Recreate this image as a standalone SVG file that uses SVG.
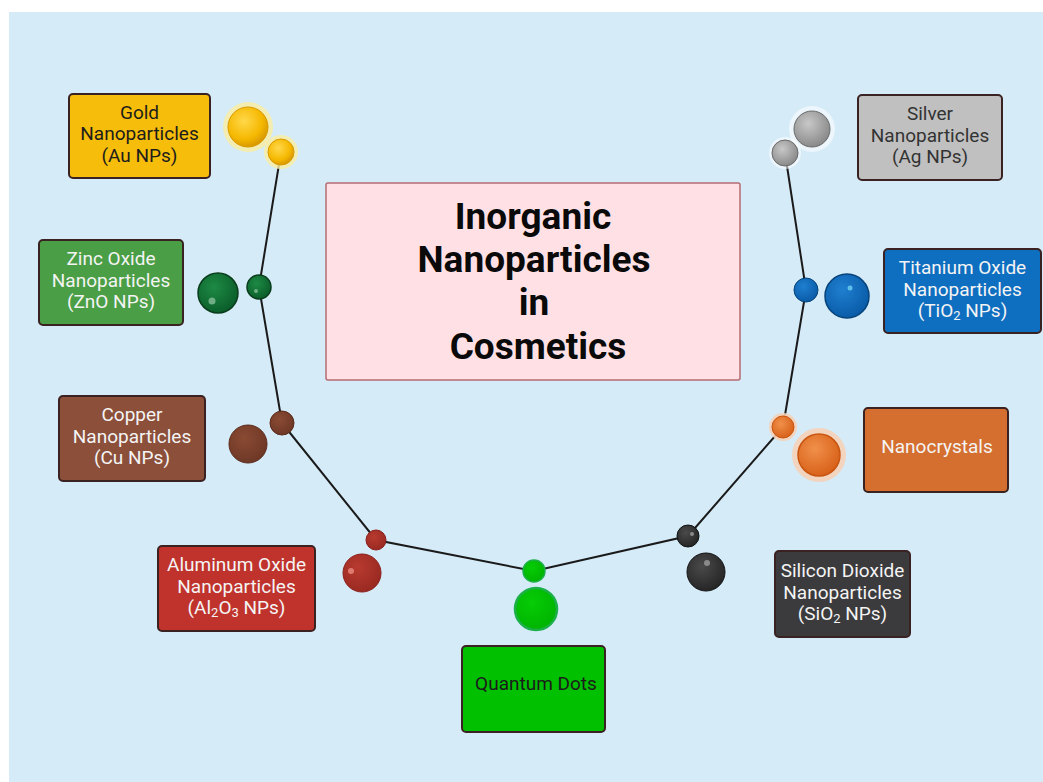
<svg xmlns="http://www.w3.org/2000/svg" width="1043" height="782" viewBox="0 0 1043 782">
<defs>
<style>
.box{stroke:#3b2222;stroke-width:2}
.t{font-family:Roboto,"Liberation Sans",sans-serif;font-size:19px;text-anchor:middle}
.dk{fill:#1c1c1c}
.wt{fill:#f4f4f4}
.title{font-family:Roboto,"Liberation Sans",sans-serif;font-size:37px;font-weight:bold;text-anchor:middle;fill:#0a0a0a}
.halo{fill:#ffffff;opacity:0.55}
</style>
<radialGradient id="gGold" cx="0.4" cy="0.35" r="0.65"><stop offset="0" stop-color="#ffd84a"/><stop offset="0.7" stop-color="#f5b800"/><stop offset="1" stop-color="#d99a00"/></radialGradient>
<radialGradient id="gZinc" cx="0.4" cy="0.35" r="0.65"><stop offset="0" stop-color="#1d8a45"/><stop offset="1" stop-color="#0b5e2a"/></radialGradient>
<radialGradient id="gCu" cx="0.4" cy="0.35" r="0.65"><stop offset="0" stop-color="#8a4a33"/><stop offset="1" stop-color="#6e3826"/></radialGradient>
<radialGradient id="gAl" cx="0.4" cy="0.35" r="0.65"><stop offset="0" stop-color="#b83a2f"/><stop offset="1" stop-color="#9a2a22"/></radialGradient>
<radialGradient id="gQd" cx="0.4" cy="0.35" r="0.65"><stop offset="0" stop-color="#06cc06"/><stop offset="1" stop-color="#00b400"/></radialGradient>
<radialGradient id="gSi" cx="0.4" cy="0.35" r="0.65"><stop offset="0" stop-color="#4a4a4a"/><stop offset="1" stop-color="#262626"/></radialGradient>
<radialGradient id="gNc" cx="0.4" cy="0.35" r="0.65"><stop offset="0" stop-color="#f0904a"/><stop offset="1" stop-color="#d9621a"/></radialGradient>
<radialGradient id="gTi" cx="0.4" cy="0.35" r="0.65"><stop offset="0" stop-color="#1f7fd0"/><stop offset="1" stop-color="#0a5ca8"/></radialGradient>
<radialGradient id="gAg" cx="0.4" cy="0.35" r="0.65"><stop offset="0" stop-color="#c8c8c8"/><stop offset="1" stop-color="#8a8a8a"/></radialGradient>
</defs>
<rect x="0" y="0" width="1043" height="782" fill="#ffffff"/>
<rect x="9" y="12" width="1034" height="770" fill="#d5ebf8"/>

<g id="connectors">
<polyline points="281,152 259,287 282,423 376,540 534,571 688,536 783,427 806,290 785,153" fill="none" stroke="#1a1a1a" stroke-width="2"/>
</g>

<g id="title">
<rect x="326" y="183" width="414" height="197" rx="2" fill="#ffe1e5" stroke="#b56c72" stroke-width="1.5"/>
<text class="title" x="533" y="229">Inorganic</text>
<text class="title" x="534" y="272">Nanoparticles</text>
<text class="title" x="534" y="315">in</text>
<text class="title" x="538" y="359">Cosmetics</text>
</g>

<g id="gold">
<rect class="box" x="69" y="94" width="141" height="84" rx="4" fill="#f6bd0b"/>
<text class="t dk" x="139.5" y="119">Gold</text>
<text class="t dk" x="139.5" y="140">Nanoparticles</text>
<text class="t dk" x="139.5" y="162">(Au NPs)</text>
<circle cx="248" cy="127" r="25" fill="#fbeda0" opacity="0.8"/>
<circle cx="281" cy="152" r="17" fill="#fbeda0" opacity="0.8"/>
<circle cx="248" cy="127" r="20" fill="url(#gGold)" stroke="#d89a00" stroke-width="1"/>
<circle cx="281" cy="152" r="13" fill="url(#gGold)" stroke="#d89a00" stroke-width="1"/>
</g>

<g id="zinc">
<rect class="box" x="39" y="240" width="144" height="85" rx="4" fill="#4a9e45"/>
<text class="t wt" x="111" y="265">Zinc Oxide</text>
<text class="t wt" x="111" y="287">Nanoparticles</text>
<text class="t wt" x="111" y="308">(ZnO NPs)</text>
<circle cx="218" cy="293" r="20" fill="url(#gZinc)" stroke="#0a3d1c" stroke-width="1.5"/>
<circle cx="212" cy="301" r="3.5" fill="#6fae84"/>
<circle cx="259" cy="287" r="12" fill="url(#gZinc)" stroke="#0a3d1c" stroke-width="1.5"/>
<circle cx="256" cy="291" r="2" fill="#6fae84"/>
</g>

<g id="copper">
<rect class="box" x="59" y="396" width="146" height="85" rx="4" fill="#8b4f3a"/>
<text class="t wt" x="132" y="421">Copper</text>
<text class="t wt" x="132" y="443">Nanoparticles</text>
<text class="t wt" x="132" y="464">(Cu NPs)</text>
<circle cx="248" cy="444" r="19" fill="url(#gCu)" stroke="#5a2a1a" stroke-width="1"/>
<circle cx="282" cy="423" r="12" fill="url(#gCu)" stroke="#5a2a1a" stroke-width="1"/>
</g>

<g id="aluminum">
<rect class="box" x="158" y="546" width="157" height="85" rx="4" fill="#c0332d"/>
<text class="t wt" x="236.5" y="571">Aluminum Oxide</text>
<text class="t wt" x="236.5" y="593">Nanoparticles</text>
<text class="t wt" x="236.5" y="614">(Al<tspan font-size="13" dy="3">2</tspan><tspan dy="-3">O</tspan><tspan font-size="13" dy="3">3</tspan><tspan dy="-3"> NPs)</tspan></text>
<circle cx="362" cy="573" r="19" fill="url(#gAl)" stroke="#8a1f1a" stroke-width="1"/>
<circle cx="351" cy="571" r="3" fill="#e07a70"/>
<circle cx="376" cy="540" r="10" fill="url(#gAl)" stroke="#8a1f1a" stroke-width="1"/>
</g>

<g id="quantum">
<rect class="box" x="462" y="646" width="143" height="86" rx="4" fill="#00c000"/>
<text class="t dk" x="536" y="690">Quantum Dots</text>
<circle cx="536" cy="609" r="21" fill="url(#gQd)" stroke="#1db04a" stroke-width="2.5"/>
<circle cx="534" cy="571" r="11" fill="url(#gQd)" stroke="#1db04a" stroke-width="1.5"/>
</g>

<g id="silicon">
<rect class="box" x="775" y="551" width="135" height="86" rx="4" fill="#3b3a3c" stroke="#5a1a1a"/>
<text class="t wt" x="842.5" y="577">Silicon Dioxide</text>
<text class="t wt" x="842.5" y="599">Nanoparticles</text>
<text class="t wt" x="842.5" y="620">(SiO<tspan font-size="13" dy="3">2</tspan><tspan dy="-3"> NPs)</tspan></text>
<circle cx="706" cy="572" r="19" fill="url(#gSi)" stroke="#111" stroke-width="1"/>
<circle cx="707" cy="563" r="3" fill="#8a8a8a"/>
<circle cx="688" cy="536" r="11" fill="url(#gSi)" stroke="#111" stroke-width="1"/>
<circle cx="692" cy="534" r="2" fill="#8a8a8a"/>
</g>

<g id="nanocrystals">
<rect class="box" x="864" y="408" width="144" height="84" rx="4" fill="#d46f30"/>
<text class="t wt" x="937" y="453">Nanocrystals</text>
<circle cx="819" cy="455" r="27" fill="#f6d2b8" opacity="0.9"/>
<circle cx="783" cy="427" r="14" fill="#f6d2b8" opacity="0.9"/>
<circle cx="819" cy="455" r="21" fill="url(#gNc)" stroke="#c8550f" stroke-width="1.5"/>
<circle cx="783" cy="427" r="11" fill="url(#gNc)" stroke="#c8550f" stroke-width="1"/>
</g>

<g id="titanium">
<rect class="box" x="884" y="249" width="157" height="84" rx="4" fill="#0e6ec0" stroke="#5a1a1a"/>
<text class="t wt" x="962.5" y="274">Titanium Oxide</text>
<text class="t wt" x="962.5" y="296">Nanoparticles</text>
<text class="t wt" x="962.5" y="317">(TiO<tspan font-size="13" dy="3">2</tspan><tspan dy="-3"> NPs)</tspan></text>
<circle cx="847" cy="296" r="22" fill="url(#gTi)" stroke="#07437a" stroke-width="1.5"/>
<circle cx="850" cy="288" r="2.5" fill="#5ec0e8"/>
<circle cx="806" cy="290" r="12" fill="url(#gTi)" stroke="#07437a" stroke-width="1"/>
</g>

<g id="silver">
<rect class="box" x="858" y="95" width="144" height="85" rx="4" fill="#c0c0c0"/>
<text class="t" fill="#333" x="930" y="120">Silver</text>
<text class="t" fill="#333" x="930" y="142">Nanoparticles</text>
<text class="t" fill="#333" x="930" y="163">(Ag NPs)</text>
<circle cx="812" cy="129" r="23" class="halo"/>
<circle cx="785" cy="153" r="16" class="halo"/>
<circle cx="812" cy="129" r="18" fill="url(#gAg)" stroke="#6a6a6a" stroke-width="1"/>
<circle cx="785" cy="153" r="13" fill="url(#gAg)" stroke="#6a6a6a" stroke-width="1"/>
</g>
</svg>
